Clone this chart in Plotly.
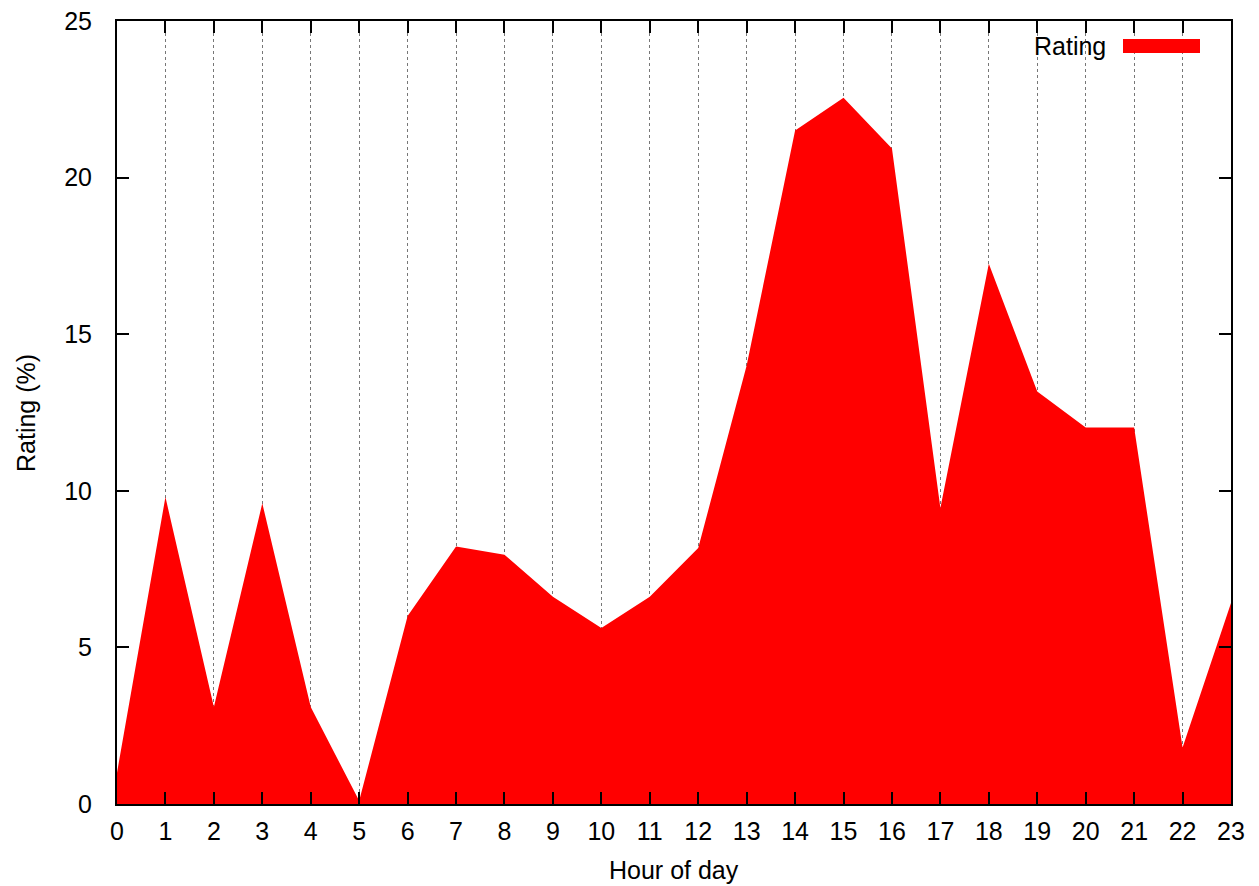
import plotly.graph_objects as go

hours = list(range(24))
rating = [1.0, 9.8, 3.1, 9.6, 3.1, 0.1, 6.0, 8.22, 7.96, 6.62, 5.62, 6.62,
          8.17, 14.0, 21.5, 22.55, 20.93, 9.45, 17.25, 13.17, 12.02, 12.02, 1.8, 6.42]
x_ticks = list(range(24))
y_ticks = [0, 5, 10, 15, 20, 25]

fig = go.Figure()
fig.add_trace(go.Scatter(
    x=hours, y=rating, mode="lines", fill="tozeroy", name="Rating",
    line=dict(width=0, color="#ff0000"), fillcolor="#ff0000", showlegend=False,
))

font = dict(family="Liberation Sans, Arial, sans-serif", size=25, color="black")

# plot area target: x 117..1231, y 21..804 (screen px), page margin removed
fig.update_layout(
    width=1259, height=886,
    margin=dict(l=117, r=28, t=21, b=82, autoexpand=False),
    paper_bgcolor="white", plot_bgcolor="white",
    font=font,
    xaxis=dict(
        range=[0, 23], tickvals=x_ticks, ticktext=[str(v) for v in x_ticks],
        showline=True, linecolor="black", linewidth=2, mirror="ticks",
        ticks="inside", ticklen=12, tickwidth=1.5, tickcolor="black",
        showgrid=True, gridcolor="#777777", griddash="dot", gridwidth=1,
        zeroline=False, ticklabelstandoff=4, automargin=False,
        ticklabeloverflow="allow",
    ),
    yaxis=dict(
        range=[0, 25], tickvals=y_ticks,
        showline=True, linecolor="black", linewidth=2, mirror="ticks",
        ticks="inside", ticklen=12, tickwidth=1.5, tickcolor="black",
        showgrid=False, zeroline=False, ticklabelstandoff=18, automargin=False,
        ticklabeloverflow="allow",
    ),
)

# pixel -> paper conversion (plot area in screen px)
PL, PR, PT, PB = 117, 1231, 21, 804
def px(x):
    return (x - PL) / (PR - PL)
def py(y):
    return (PB - y) / (PB - PT)

# axis titles
fig.add_annotation(x=px(674), y=py(870), xref="paper", yref="paper", text="Hour of day",
                   showarrow=False, xanchor="center", yanchor="middle", font=font)
fig.add_annotation(x=px(26), y=py(413), xref="paper", yref="paper", text="Rating (%)",
                   showarrow=False, xanchor="center", yanchor="middle", textangle=-90, font=font)

# legend drawn by hand (text left of the swatch)
fig.add_annotation(x=px(1108), y=py(46), xref="paper", yref="paper", text="Rating",
                   showarrow=False, xanchor="right", yanchor="middle", font=font)
fig.add_shape(type="rect", xref="paper", yref="paper",
              x0=px(1123), x1=px(1200), y0=py(53), y1=py(39),
              fillcolor="#ff0000", line=dict(width=0))

fig.write_html("out.html", config={"displayModeBar": False},
               post_script="document.body.style.margin='0';")
